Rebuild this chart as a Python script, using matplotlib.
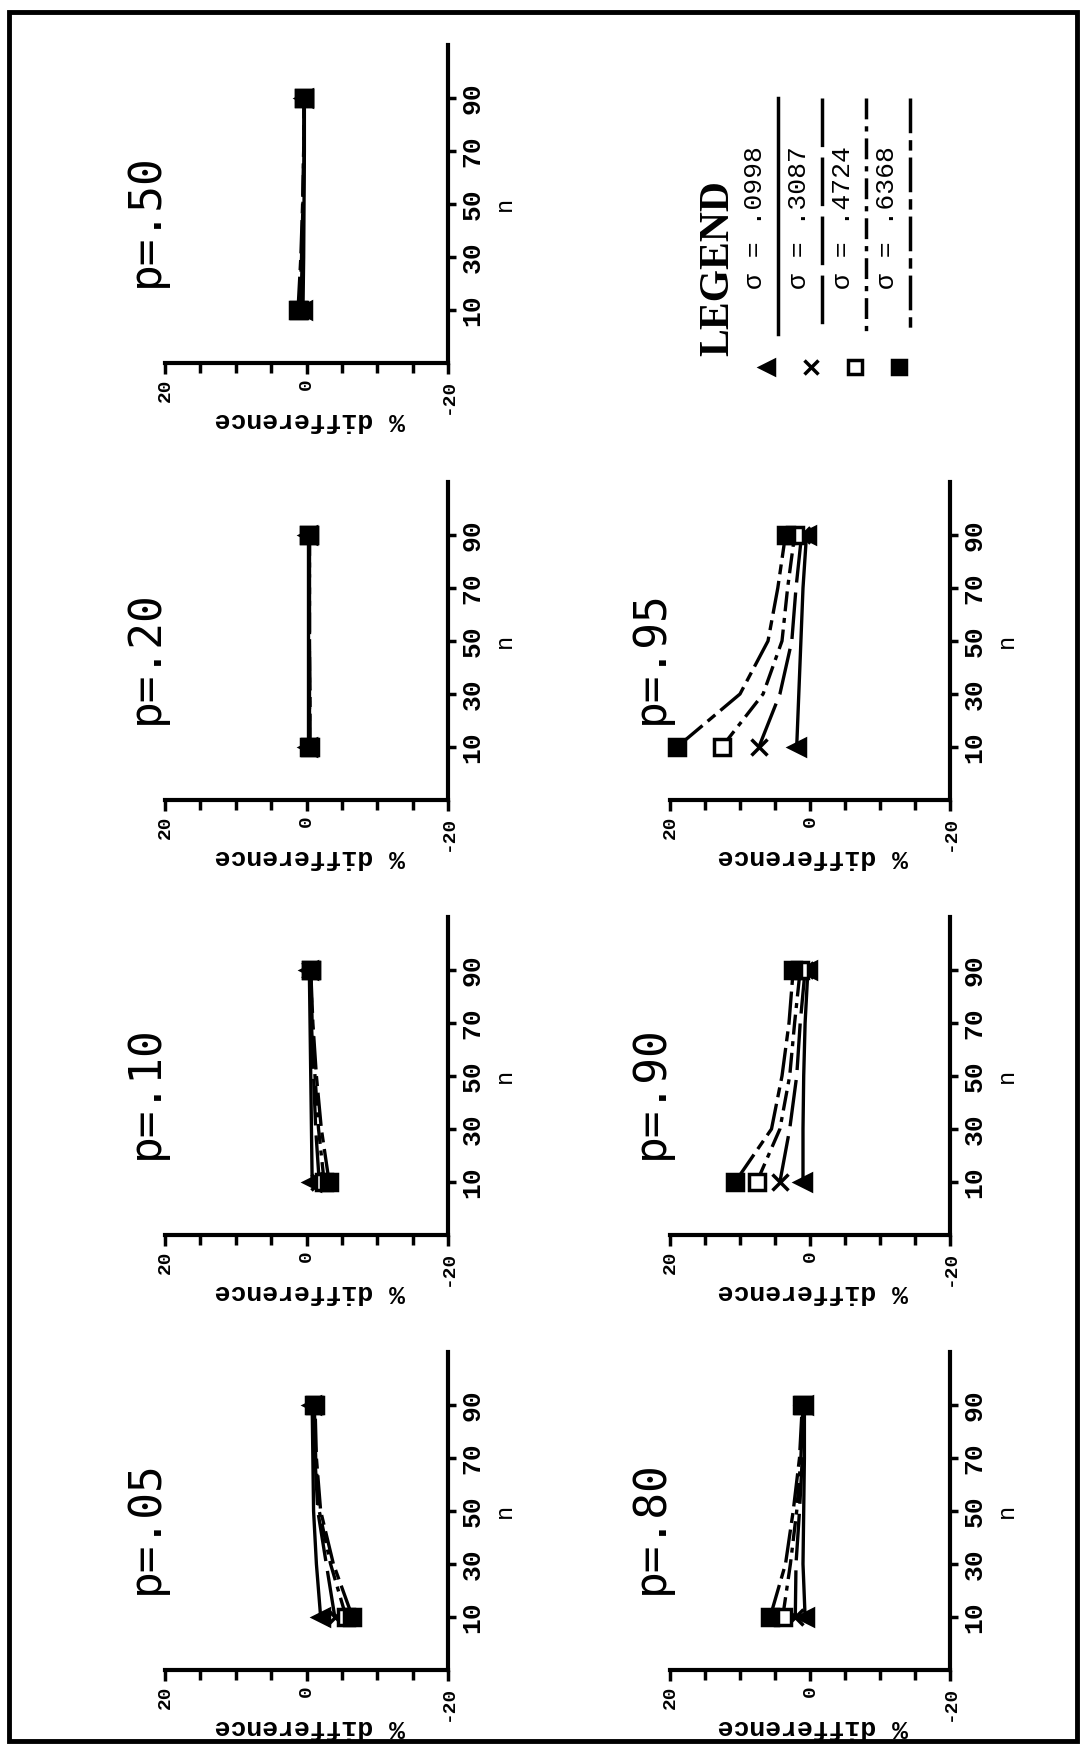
"""
plot.py
Rotated scan of the "% difference vs n" panels (one panel per p),
four sigma series each, plus the legend block.
"""

import matplotlib
matplotlib.use("Agg")
import matplotlib.pyplot as plt
from matplotlib.patches import Rectangle
from matplotlib.ticker import MultipleLocator


# ── DATA ──────────────────────────────────────────────────────────────────────
N_VALUES = [10, 30, 50, 70, 90]
N_TICKS = [10, 30, 50, 70, 90]
DIFF_TICKS = [20, 0, -20]
SIGMA_LABELS = [".0998", ".3087", ".4724", ".6368"]

# % difference, one list per sigma (.0998, .3087, .4724, .6368), values per n
DIFF_P05 = [[-2.0, -1.4, -1.0, -0.9, -0.8],
            [-4.0, -2.8, -1.6, -1.2, -1.0],
            [-5.6, -3.4, -1.8, -1.3, -1.1],
            [-6.5, -3.8, -2.0, -1.4, -1.2]]
DIFF_P10 = [[-0.8, -0.7, -0.6, -0.5, -0.4],
            [-1.8, -1.3, -1.0, -0.7, -0.5],
            [-2.5, -1.7, -1.2, -0.8, -0.6],
            [-3.2, -2.1, -1.4, -0.9, -0.6]]
DIFF_P20 = [[-0.2, -0.2, -0.2, -0.2, -0.2],
            [-0.3, -0.3, -0.3, -0.3, -0.3],
            [-0.4, -0.4, -0.4, -0.4, -0.4],
            [-0.5, -0.5, -0.4, -0.4, -0.4]]
DIFF_P50 = [[0.5, 0.4, 0.35, 0.3, 0.3],
            [0.8, 0.6, 0.45, 0.35, 0.3],
            [1.0, 0.7, 0.5, 0.4, 0.35],
            [1.2, 0.8, 0.55, 0.4, 0.35]]
DIFF_P80 = [[0.7, 1.0, 0.9, 0.8, 0.8],
            [2.1, 2.0, 1.5, 1.1, 0.9],
            [3.9, 2.8, 1.9, 1.3, 1.0],
            [5.7, 3.5, 2.4, 1.5, 1.1]]
DIFF_P90 = [[1.0, 1.0, 0.9, 0.7, 0.3],
            [4.3, 2.9, 1.9, 1.4, 0.7],
            [7.6, 4.3, 2.9, 2.2, 1.4],
            [10.7, 5.5, 4.0, 3.0, 2.4]]
DIFF_P95 = [[1.9, 1.6, 1.3, 1.0, 0.5],
            [7.3, 4.3, 2.6, 2.0, 1.2],
            [12.6, 6.7, 4.0, 3.2, 2.2],
            [19.0, 10.0, 6.0, 4.6, 3.5]]

# ── LAYOUT (pixels on the 1085 x 1753 page) ───────────────────────────────────
FIG_W, FIG_H = 1085, 1753
COL_X = [165, 670]            # left edge of the "% difference" axis
COL_W = [283, 280]
ROW_BOTTOM = [363, 800, 1235, 1670]   # y of the horizontal axis line
ROW_H = 318

# (column, row) -> panel; the page is turned 90 degrees
PANELS = [
    (0, 0, "p=.50", DIFF_P50),
    (0, 1, "p=.20", DIFF_P20),
    (0, 2, "p=.10", DIFF_P10),
    (0, 3, "p=.05", DIFF_P05),
    (1, 1, "p=.95", DIFF_P95),
    (1, 2, "p=.90", DIFF_P90),
    (1, 3, "p=.80", DIFF_P80),
]

STYLES = [
    dict(marker="<", ls="-", mfc="black"),
    dict(marker="x", ls=(0, (14, 3)), mfc="black"),
    dict(marker="s", ls=(0, (6, 2, 1.5, 2)), mfc="white"),
    dict(marker="s", ls=(0, (10, 2, 3, 2)), mfc="black"),
]

MONO = ["Liberation Mono", "DejaVu Sans Mono"]
# ──────────────────────────────────────────────────────────────────────────────


def px_rect(x, y_bottom, w, h):
    """Pixel box (top-left origin) -> figure fraction rect."""
    return [x / FIG_W, 1 - y_bottom / FIG_H, w / FIG_W, h / FIG_H]


def draw_panel(fig, col, row, title, series):
    ax = fig.add_axes(px_rect(COL_X[col], ROW_BOTTOM[row], COL_W[col], ROW_H))

    for vals, st in zip(series, STYLES):
        ax.plot(vals, N_VALUES, color="black", lw=2.4, ls=st["ls"],
                marker=st["marker"], markevery=[0, len(N_VALUES) - 1],
                ms=11, mfc=st["mfc"], mec="black", mew=2.5, clip_on=False)

    ax.set_xlim(20, -20)
    ax.set_ylim(-10, 110)

    for side in ("top", "left"):
        ax.spines[side].set_visible(False)
    for side in ("bottom", "right"):
        ax.spines[side].set_linewidth(3)

    # "% difference" axis (horizontal on the page)
    ax.set_xticks(DIFF_TICKS)
    ax.set_xticklabels([str(t) for t in DIFF_TICKS], rotation=90,
                       fontsize=14, family=MONO, fontweight="bold")
    ax.xaxis.set_minor_locator(MultipleLocator(5))
    ax.tick_params(axis="x", which="major", length=8, width=2.5, pad=3)
    ax.tick_params(axis="x", which="minor", length=7, width=2.5)
    ax.set_xlabel("% difference", rotation=180, fontsize=19, family=MONO,
                  fontweight="bold", va="center")
    ax.xaxis.set_label_coords(0.51, -57 / ROW_H)

    # n axis (vertical on the page)
    ax.yaxis.tick_right()
    ax.yaxis.set_label_position("right")
    ax.set_yticks(N_TICKS)
    ax.set_yticklabels([str(t) for t in N_TICKS], rotation=90, va="center",
                       fontsize=19, family=MONO, fontweight="bold")
    ax.tick_params(axis="y", length=6, width=2.5, pad=3)
    ax.set_ylabel("n", rotation=90, fontsize=17, family=MONO, labelpad=14,
                  va="center")

    ax.text(-0.07, 0.45, title, transform=ax.transAxes, rotation=90,
            ha="center", va="center", fontsize=32, family="DejaVu Sans Mono")
    ax.patch.set_alpha(0)
    return ax


def draw_legend(fig):
    # box in the right column, top row; coordinates in page pixels
    x0, y_bot = COL_X[1], ROW_BOTTOM[0]
    ax = fig.add_axes(px_rect(x0, y_bot, COL_W[1], ROW_H))
    ax.set_xlim(x0, x0 + COL_W[1])
    ax.set_ylim(y_bot, y_bot - ROW_H)
    ax.axis("off")

    ax.text(718, 268, "LEGEND", rotation=90, ha="center", va="center",
            fontsize=30, family="Liberation Serif", fontweight="bold")

    step = 44
    for i, (lab, st) in enumerate(zip(SIGMA_LABELS, STYLES)):
        ax.text(755 + step * i, 218, "\u03c3 = " + lab, rotation=90,
                ha="center", va="center", fontsize=19, family=MONO)
        ax.plot([778 + step * i] * 2, [98, 334], color="black", lw=2.5,
                ls=st["ls"], clip_on=False)
        ax.plot([767 + step * i], [367], marker=st["marker"], ms=10,
                mfc=st["mfc"], mec="black", mew=2.5, ls="none", clip_on=False)


def main():
    fig = plt.figure(figsize=(FIG_W / 100, FIG_H / 100), dpi=100)
    fig.patch.set_facecolor("white")

    for col, row, title, series in PANELS:
        draw_panel(fig, col, row, title, series)
    draw_legend(fig)

    # page frame
    fig.add_artist(Rectangle((9 / FIG_W, 1 - 1741 / FIG_H),
                             1068 / FIG_W, 1729 / FIG_H,
                             transform=fig.transFigure, fill=False,
                             lw=3.5, ec="black"))

    fig.savefig("out.png", dpi=100)
    plt.close(fig)


if __name__ == "__main__":
    main()
